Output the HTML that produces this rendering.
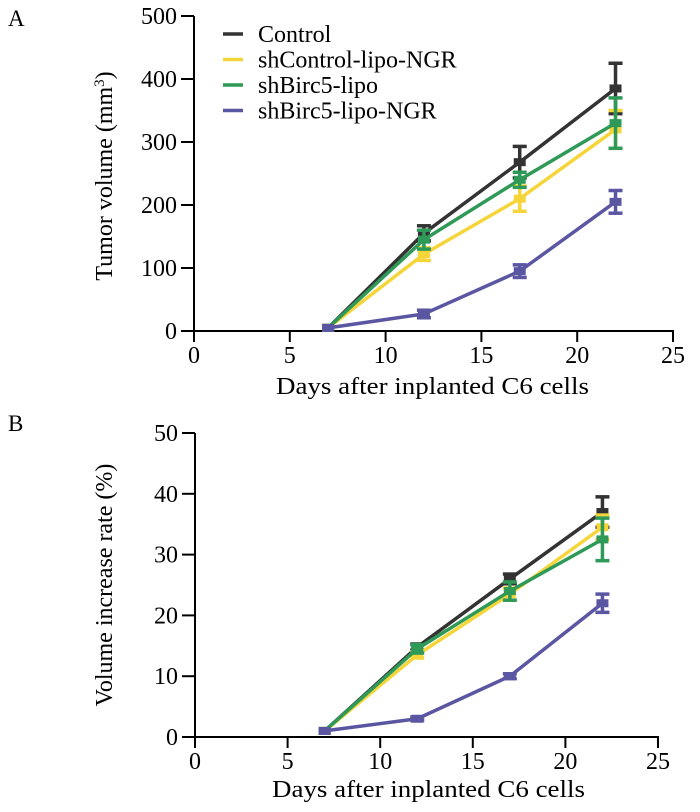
<!DOCTYPE html>
<html><head><meta charset="utf-8"><style>
body{margin:0;background:#fff}
svg{display:block}
svg text{font-family:"Liberation Serif","Times New Roman",serif}
</style></head><body>
<svg id="chart" width="700" height="812" viewBox="0 0 700 812" xmlns="http://www.w3.org/2000/svg" font-family="Liberation Serif, serif">
<text x="8" y="26" font-size="23">A</text>
<text x="8" y="431" font-size="23">B</text>
<g id="pa"></g>
<g id="pb"></g>
<g id="legend"></g>
</svg>
<script>
const days = [7, 12, 17, 22];
const seriesNames = ["Control", "shControl-lipo-NGR", "shBirc5-lipo", "shBirc5-lipo-NGR"];
const seriesColors = ["#333333", "#f6d53a", "#2f9a57", "#5a56a2"];
const xTicks = [0, 5, 10, 15, 20, 25];
const aTicks = [0, 100, 200, 300, 400, 500];
const aControl = [5, 155, 268, 385];
const aShControl = [5, 122, 210, 320];
const aShBirc5 = [5, 145, 240, 330];
const aShBirc5NGR = [5, 27, 95, 205];
const aErrControl = [0, 12, 25, 40];
const aErrShControl = [0, 10, 20, 30];
const aErrShBirc5 = [0, 15, 12, 40];
const aErrShBirc5NGR = [0, 6, 10, 18];
const bTicks = [0, 10, 20, 30, 40, 50];
const bControl = [1, 14.8, 26, 37];
const bShControl = [1, 13.5, 23.5, 34.5];
const bShBirc5 = [1, 14.5, 24, 32.5];
const bShBirc5NGR = [1, 3, 10, 22];
const bErrControl = [0, 0.5, 0.8, 2.5];
const bErrShControl = [0, 0.5, 1, 2];
const bErrShBirc5 = [0, 0.7, 1.5, 3.5];
const bErrShBirc5NGR = [0, 0.3, 0.4, 1.5];

const NS = "http://www.w3.org/2000/svg";
const FF = "Liberation Serif, serif";
const FS = 24;
function mk(tag, attrs, parent){const e=document.createElementNS(NS,tag);for(const k in attrs)e.setAttribute(k,attrs[k]);parent.appendChild(e);return e;}

function panel(g, cfg){
  const xs = v => cfg.x0 + (v/25)*(cfg.x1-cfg.x0);
  const ys = v => cfg.y0 - (v/cfg.ymax)*(cfg.y0-cfg.y1);
  const ax = mk("g",{},g);
  
  
  mk("line",{x1:cfg.x0,y1:cfg.y1,x2:cfg.x0,y2:cfg.y0+1,stroke:"#000","stroke-width":2},ax);
  mk("line",{x1:cfg.x0-13,y1:cfg.y0,x2:cfg.x1+1,y2:cfg.y0,stroke:"#000","stroke-width":2},ax);
  cfg.yt.forEach(t=>{
    mk("line",{x1:cfg.x0-13,y1:ys(t),x2:cfg.x0,y2:ys(t),stroke:"#000","stroke-width":2},ax);
    const tx=mk("text",{x:cfg.x0-17,y:ys(t)+8,"font-size":FS,"font-family":FF,"text-anchor":"end"},ax);
    tx.textContent=t;
    
    
  });
  xTicks.forEach(t=>{
    mk("line",{x1:xs(t),y1:cfg.y0,x2:xs(t),y2:cfg.y0+11,stroke:"#000","stroke-width":2},ax);
    const tx=mk("text",{x:xs(t),y:cfg.y0+32,"font-size":FS,"font-family":FF,"text-anchor":"middle"},ax);
    tx.textContent=t;
    
    
  });
  const xt=mk("text",{x:cfg.xtx,y:cfg.y0+cfg.xtdy,"font-size":FS,"font-family":FF,"textLength":313,"lengthAdjust":"spacingAndGlyphs"},g);
  xt.textContent="Days after inplanted C6 cells";
  
  
  const yt=mk("text",{x:0,y:0,"font-size":FS,"font-family":FF,"text-anchor":"middle",transform:`translate(${cfg.tx},${cfg.ty}) rotate(-90)`},g);
  yt.innerHTML=cfg.title;
  
  
  cfg.series.forEach((s,i)=>{
    const sg=mk("g",{},g);
    
    
    const c=seriesColors[i];
    mk("polyline",{points:days.map((d,j)=>xs(d)+","+ys(s[j])).join(" "),fill:"none",stroke:c,"stroke-width":3.5},sg);
    days.forEach((d,j)=>{
      const e=cfg.err[i][j], x=xs(d);
      if(e>0){
        mk("line",{x1:x,y1:ys(s[j]-e),x2:x,y2:ys(s[j]+e),stroke:c,"stroke-width":3.5},sg);
        mk("line",{x1:x-7,y1:ys(s[j]-e),x2:x+7,y2:ys(s[j]-e),stroke:c,"stroke-width":3.5},sg);
        mk("line",{x1:x-7,y1:ys(s[j]+e),x2:x+7,y2:ys(s[j]+e),stroke:c,"stroke-width":3.5},sg);
      }
      const p=mk("rect",{x:x-6,y:ys(s[j])-4,width:12,height:8,fill:c},sg);
      
      
    });
  });
}
panel(document.getElementById("pa"),{id:"a",x0:194,x1:673,y0:331,y1:16,ymax:500,yt:aTicks,xtx:276,xtdy:32+31,
  series:[aControl,aShControl,aShBirc5,aShBirc5NGR],err:[aErrControl,aErrShControl,aErrShBirc5,aErrShBirc5NGR],
  title:'Tumor volume (mm<tspan baseline-shift="super" font-size="15">3</tspan>)',tx:112,ty:176});
panel(document.getElementById("pb"),{id:"b",x0:195,x1:658,y0:737,y1:433,ymax:50,yt:bTicks,xtx:272,xtdy:60,
  series:[bControl,bShControl,bShBirc5,bShBirc5NGR],err:[bErrControl,bErrShControl,bErrShBirc5,bErrShBirc5NGR],
  title:'Volume increase rate (%)',tx:112,ty:585});
const lg=document.getElementById("legend");
seriesNames.forEach((n,i)=>{
  const y=34+i*25.5;
  const it=mk("g",{},lg);
  
  
  mk("line",{x1:223,y1:y,x2:243,y2:y,stroke:seriesColors[i],"stroke-width":3.5},it);
  const t=mk("text",{x:258,y:y+8,"font-size":FS,"font-family":FF},it);
  t.textContent=n;
});
</script>
</body></html>
